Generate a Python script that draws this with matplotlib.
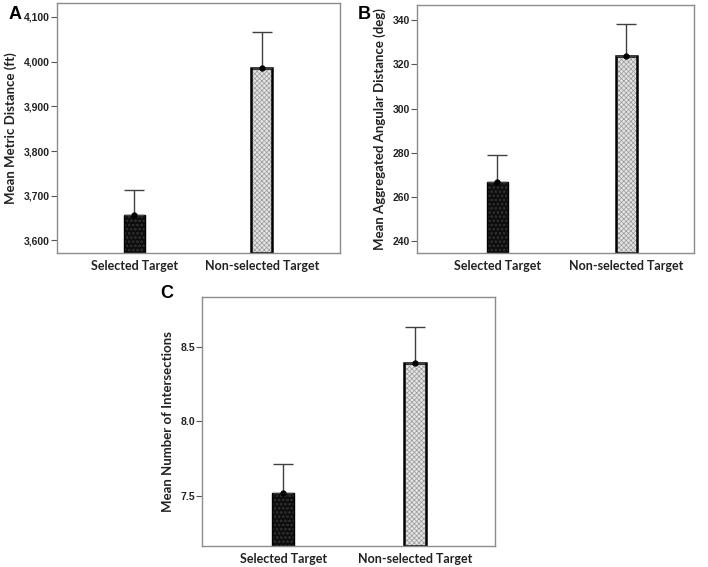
import numpy as np
import matplotlib.pyplot as plt

plt.rcParams['hatch.linewidth'] = 0.5

categories = ['Selected Target', 'Non-selected Target']

metric_mean = [3657, 3986]
metric_err = [55, 81]
metric_ticks = [3600, 3700, 3800, 3900, 4000, 4100]

angular_mean = [267.0, 323.9]
angular_err = [11.8, 14.1]
angular_ticks = [240, 260, 280, 300, 320, 340]

inter_mean = [7.518, 8.389]
inter_err = [0.196, 0.241]
inter_ticks = [7.5, 8.0, 8.5]

fig = plt.figure(figsize=(7.08, 5.67), dpi=100)

panels = [
    # label, rect, means, errs, ticks, ylim, xlim, ylabel, tick format
    ('A', [0.0805, 0.5538, 0.3997, 0.4409], metric_mean, metric_err, metric_ticks,
     (3572, 4131), (-0.608, 1.612), 'Mean Metric Distance (ft)', lambda v: f'{v:,.0f}'),
    ('B', [0.5894, 0.5533, 0.3908, 0.4384], angular_mean, angular_err, angular_ticks,
     (234.6, 346.9), (-0.621, 1.526), 'Mean Aggregated Angular Distance (deg)', lambda v: f'{v:.0f}'),
    ('C', [0.2857, 0.0376, 0.4134, 0.4392], inter_mean, inter_err, inter_ticks,
     (7.167, 8.835), (-0.612, 1.603), 'Mean Number of Intersections', lambda v: f'{v:.1f}'),
]

for label, rect, means, errs, ticks, ylim, xlim, ylabel, fmt in panels:
    ax = fig.add_axes(rect)
    x = np.arange(len(categories))
    base = ylim[0]
    heights = [m - base for m in means]
    b1 = ax.bar(x[0], heights[0], bottom=base, width=0.165, color='#0d0d0d',
                edgecolor='black', linewidth=1.0, hatch='oooo', zorder=2)
    b2 = ax.bar(x[1], heights[1], bottom=base, width=0.165, color='#e4e4e4',
                edgecolor='black', linewidth=1.8, hatch='xxxxxxx', zorder=2)
    b1[0]._hatch_color = (0.17, 0.17, 0.17, 1)
    b2[0]._hatch_color = (0.6, 0.6, 0.6, 1)
    ax.errorbar(x, means, yerr=[np.zeros(len(means)), errs], fmt='o', ms=3.5,
                color='black', ecolor='#404040', elinewidth=1.0, capsize=7.5,
                capthick=1.0, zorder=3)
    ax.set_xlim(*xlim)
    ax.set_ylim(*ylim)
    ax.set_xticks(x)
    ax.set_xticklabels(categories, fontsize=9, fontweight='bold', fontfamily='Lato',
                       color='#222222')
    ax.tick_params(axis='x', length=0, pad=5)
    ax.set_yticks(ticks)
    ax.set_yticklabels([fmt(t) for t in ticks], fontsize=7.5, fontweight='bold',
                       fontfamily='Liberation Sans', color='#222222')
    ax.tick_params(axis='y', length=4, width=0.8, color='#555555', pad=1)
    for s in ax.spines.values():
        s.set_color('#8c8c8c')
        s.set_linewidth(1.0)
    ax.set_ylabel(ylabel, fontsize=9.5, fontweight='bold', fontfamily='Lato',
                  color='#222222', labelpad=5)

fig.text(0.012, 0.99, 'A', fontsize=13, fontweight='bold', fontfamily='Liberation Sans', va='top')
fig.text(0.505, 0.99, 'B', fontsize=13, fontweight='bold', fontfamily='Liberation Sans', va='top')
fig.text(0.226, 0.497, 'C', fontsize=13, fontweight='bold', fontfamily='Liberation Sans', va='top')

fig.savefig('out.png', dpi=100)
